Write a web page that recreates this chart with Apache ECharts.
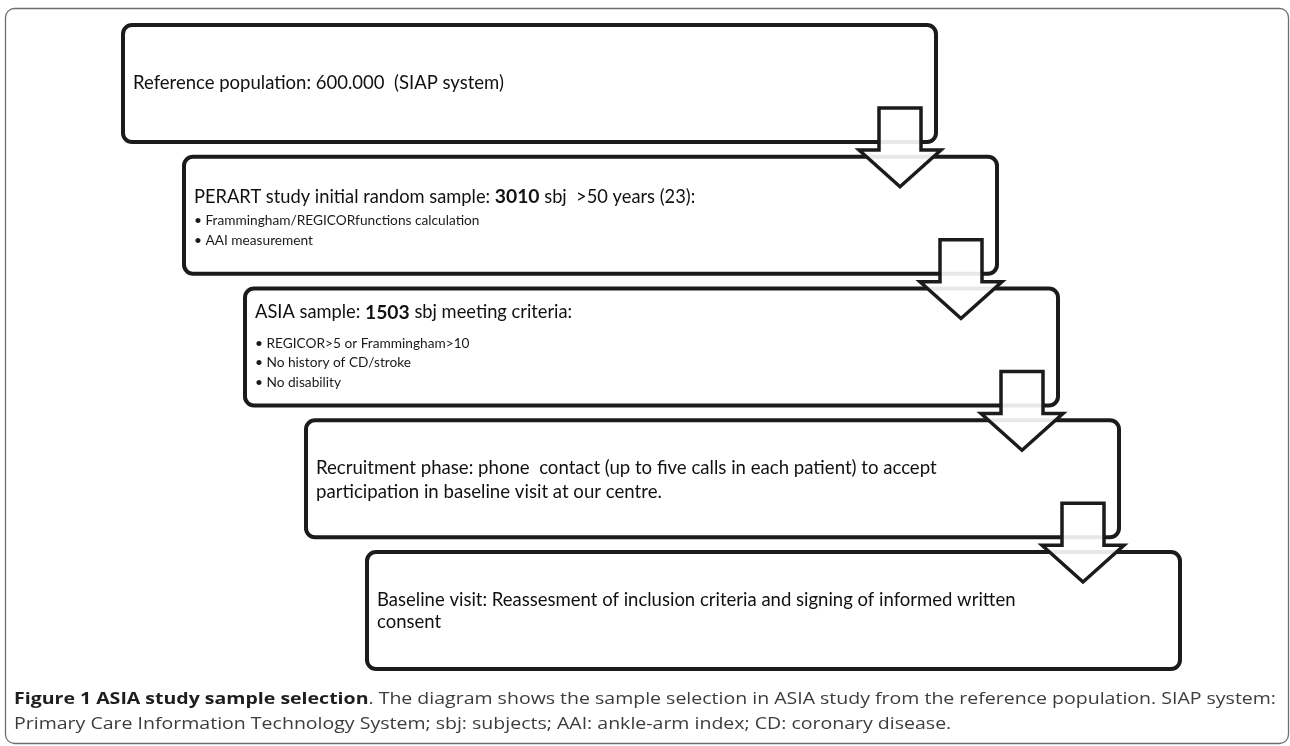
<!DOCTYPE html>
<html>
<head>
<meta charset="utf-8">
<script src="https://cdn.jsdelivr.net/npm/echarts@6/dist/echarts.min.js"></script>
<style>
html,body{margin:0;padding:0;background:#fff;}
#chart{width:1290px;height:746px;}
</style>
</head>
<body>
<div id="chart"></div>
<script>
// ---------- data ----------
const stepIndex = [0, 1, 2, 3, 4];
const stepText = [
  'Reference population: 600.000  (SIAP system)',
  'PERART study initial random sample: {b|3010} sbj  >50 years (23):',
  'ASIA sample: {b|1503} sbj meeting criteria:',
  'Recruitment phase: phone  contact (up to five calls in each patient) to accept\nparticipation in baseline visit at our centre.',
  'Baseline visit: Reassesment of inclusion criteria and signing of informed written\nconsent'
];
const stepBullets = [
  [],
  ['Frammingham/REGICORfunctions calculation', 'AAI measurement'],
  ['REGICOR>5 or Frammingham>10', 'No history of CD/stroke', 'No disability'],
  [],
  []
];
const arrowIndex = [0, 1, 2, 3];
const captionBold = 'Figure 1 ASIA study sample selection';
const captionLine1 = '. The diagram shows the sample selection in ASIA study from the reference population. SIAP system:';
const captionLine2 = 'Primary Care Information Technology System; sbj: subjects; AAI: ankle-arm index; CD: coronary disease.';

// ---------- layout (not data) ----------
const BOX_W = 813, BOX_H = 117;
function boxLeft(i) { return 123 + i * 61; }
function boxTop(i) { return 25 + i * 131.75; }
const textLayout = [
  { y: 83,  size: 18.5, lh: 22 },
  { y: 40,  size: 18.3, lh: 22, by: [64, 84] },
  { y: 24,  size: 18.3, lh: 22, by: [55, 74, 94] },
  { y: 48,  size: 18.6, lh: 24 },
  { y: 48,  size: 18.5, lh: 22 }
];
const FONT = 'Lato';
const BULLET_SIZE = 13.7;
const CAP_SIZE = 16, CAP_SX = 1.22;

const chart = echarts.init(document.getElementById('chart'), null, { renderer: 'canvas' });

function boxRender(params, api) {
  const i = api.value(0);
  const L = boxLeft(i), T = boxTop(i);
  const p0 = api.coord([L, T]), p1 = api.coord([L + BOX_W, T + BOX_H]);
  const lay = textLayout[i];
  const children = [{
    type: 'rect',
    shape: { x: p0[0], y: p0[1], width: p1[0] - p0[0], height: p1[1] - p0[1], r: 9 },
    style: { fill: '#fff', stroke: '#1b1b1b', lineWidth: 4 }
  }];
  const firstY = i === 0 ? lay.y : T + lay.y;
  const tp = api.coord([L + 10, firstY - lay.lh / 2]);
  children.push({
    type: 'text', x: tp[0], y: tp[1],
    style: {
      text: stepText[i], fontFamily: FONT, fontSize: lay.size, fill: '#111',
      lineHeight: lay.lh, verticalAlign: 'top', align: 'left',
      rich: { b: { fontFamily: FONT, fontSize: lay.size + 1, fontWeight: 'bold', fill: '#111', lineHeight: lay.lh } }
    }
  });
  stepBullets[i].forEach(function (b, k) {
    const bp = api.coord([L + 10, T + lay.by[k]]);
    children.push({
      type: 'text', x: bp[0], y: bp[1],
      style: { text: '\u2022 ' + b, fontFamily: FONT, fontSize: BULLET_SIZE, fill: '#1a1a1a', verticalAlign: 'middle', align: 'left' }
    });
  });
  return { type: 'group', children: children };
}

function arrowRender(params, api) {
  const i = api.value(0);
  const R = boxLeft(i) + BOX_W, B = boxTop(i) + BOX_H, nT = boxTop(i + 1);
  const cx = R - 36, st = B - 34, wy = B + 8, tip = nT + 30;
  const pts = [[cx - 21, st], [cx + 21, st], [cx + 21, wy], [cx + 41, wy], [cx, tip], [cx - 41, wy], [cx - 21, wy]]
    .map(function (p) { return api.coord(p); });
  return {
    type: 'polygon', shape: { points: pts },
    style: { fill: 'rgba(255,255,255,0.9)', stroke: '#1b1b1b', lineWidth: 3.5, lineJoin: 'miter' }
  };
}

// caption justification (text layout)
const mctx = document.createElement('canvas').getContext('2d');
function measure(txt, bold) {
  mctx.font = (bold ? 'bold ' : '') + CAP_SIZE + 'px "Open Sans"';
  return mctx.measureText(txt).width * CAP_SX;
}
function captionElements() {
  const els = [];
  const boldWords = captionBold.split(' ');
  const restWords = captionLine1.split(' ');
  const words = [];
  boldWords.forEach(function (w, k) {
    if (k === boldWords.length - 1) {
      words.push({ rich: '{b|' + w + '}{r|' + restWords[0] + '}', w: measure(w, true) + measure(restWords[0], false) });
    } else {
      words.push({ rich: '{b|' + w + '}', w: measure(w, true) });
    }
  });
  restWords.slice(1).forEach(function (w) { words.push({ rich: '{r|' + w + '}', w: measure(w, false) }); });
  const x0 = 14, x1 = 1276;
  const total = words.reduce(function (s, w) { return s + w.w; }, 0);
  const gap = (x1 - x0 - total) / (words.length - 1);
  let x = x0;
  const rich = {
    b: { fontFamily: 'Open Sans', fontSize: CAP_SIZE, fontWeight: 'bold', fill: '#1e1e1e' },
    r: { fontFamily: 'Open Sans', fontSize: CAP_SIZE, fill: '#3c3c3c' }
  };
  words.forEach(function (w) {
    els.push({ type: 'text', x: x, y: 699, scaleX: CAP_SX, style: { text: w.rich, rich: rich, fontSize: CAP_SIZE, fontFamily: 'Open Sans', verticalAlign: 'middle', align: 'left' } });
    x += w.w + gap;
  });
  els.push({ type: 'text', x: x0, y: 724, scaleX: CAP_SX, style: { text: captionLine2, fontFamily: 'Open Sans', fontSize: CAP_SIZE, fill: '#3c3c3c', verticalAlign: 'middle', align: 'left' } });
  return els;
}

const option = {
  animation: false,
  backgroundColor: '#fff',
  grid: { left: 0, right: 0, top: 0, bottom: 0 },
  xAxis: { type: 'value', min: 0, max: 1290, show: false },
  yAxis: { type: 'value', min: 0, max: 746, inverse: true, show: false },
  graphic: [
    { type: 'rect', left: 3, top: 6, shape: { width: 1283, height: 735, r: 9 }, style: { fill: 'none', stroke: '#6e6e6e', lineWidth: 1.3 }, z: 0 }
  ].concat(captionElements()),
  series: [
    { type: 'custom', renderItem: boxRender, data: stepIndex.map(function (i) { return [i]; }), z: 2, silent: true },
    { type: 'custom', renderItem: arrowRender, data: arrowIndex.map(function (i) { return [i]; }), z: 3, silent: true }
  ]
};
chart.setOption(option);
</script>
</body>
</html>
